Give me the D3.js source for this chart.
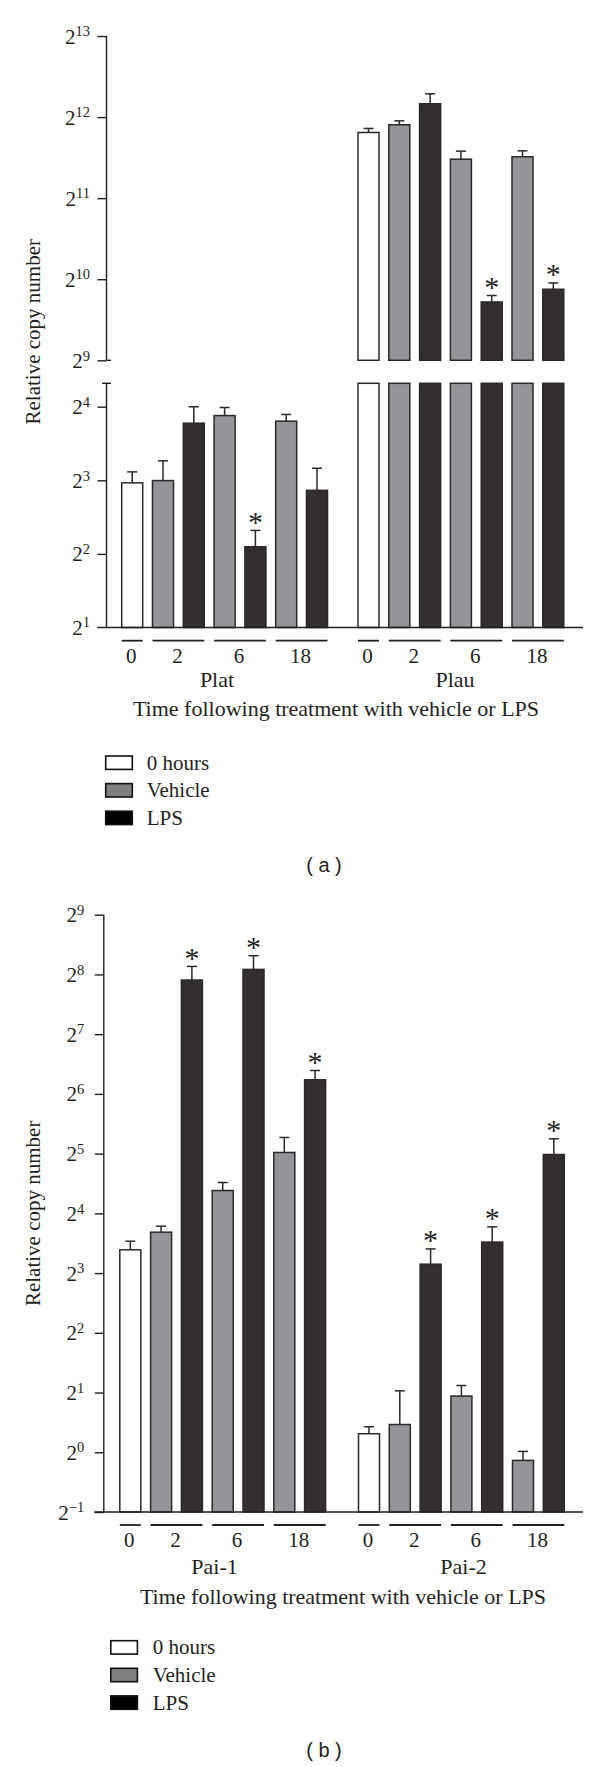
<!DOCTYPE html>
<html><head><meta charset="utf-8">
<script src="https://cdn.jsdelivr.net/npm/d3@7"></script>
<style>
body{margin:0;background:#fff}
svg{display:block}
text{font-family:"Liberation Serif","Times New Roman",serif;fill:#231f20}
</style>
</head><body>
<svg id="c" width="600" height="1767"></svg>
<script>
// ---------------- DATA ----------------
const timeLabels = ["0", "2", "6", "18"];
const legendLabels = ["0 hours", "Vehicle", "LPS"];
const barCondition = ["0h", "Vehicle", "LPS", "Vehicle", "LPS", "Vehicle", "LPS"];
const barTime = ["0", "2", "2", "6", "6", "18", "18"];

// Panel (a)
const platMean = [7.81, 7.98, 13.70, 14.72, 4.28, 13.96, 7.28];
const platErr  = [0.85, 1.63, 2.29, 1.16, 0.71, 0.91, 1.68];
const platSig  = [false, false, false, false, true, false, false];
const plauMean = [3590, 3835, 4590, 2858, 843, 2917, 940];
const plauErr  = [127, 132, 406, 203, 48, 153, 52];
const plauSig  = [false, false, false, false, true, false, true];

// Panel (b)
const pai1Mean = [10.48, 12.86, 239.9, 20.85, 271.4, 32.43, 75.37];
const pai1Err  = [1.10, 0.93, 41.0, 2.03, 46.7, 6.16, 8.6];
const pai1Sig  = [false, false, true, false, true, false, true];
const pai2Mean = [1.24, 1.38, 8.87, 1.92, 11.46, 0.91, 31.67];
const pai2Err  = [0.105, 0.66, 1.72, 0.25, 2.22, 0.10, 6.33];
const pai2Sig  = [false, false, true, false, true, false, true];

// Axis ticks (exponents of 2)
const aUpperExp = [9, 10, 11, 12, 13];
const aLowerExp = [1, 2, 3, 4];
const bExp = [-1, 0, 1, 2, 3, 4, 5, 6, 7, 8, 9];

const yTitle = "Relative copy number";
const xTitle = "Time following treatment with vehicle or LPS";

// ---------------- STYLE ----------------
const fills = {"0h": "#ffffff", "Vehicle": "#939598", "LPS": "#332f30"};
const legendFills = ["#ffffff", "#808080", "#000000"];
const ink = "#231f20";
const barStroke = "#2b2829";

const svg = d3.select("#c");

function makeX(x0) {
  const step = 30.8, pad = 0.318;
  return d3.scaleBand().domain(d3.range(7))
    .range([x0 - step * pad / 2, x0 - step * pad / 2 + 7 * step])
    .paddingInner(pad).paddingOuter(pad / 2);
}

function expLabel(sel, e) {
  sel.append("tspan").attr("font-size", 21).text("2");
  sel.append("tspan").attr("font-size", 14.5).attr("dy", -7.3)
    .text(e < 0 ? "\u2212" + Math.abs(e) : String(e));
}

function yAxis(g, scale, exps, labelRight) {
  const ax = d3.axisLeft(scale).tickValues(exps.map(e => Math.pow(2, e)))
    .tickSize(9).tickSizeOuter(0).tickFormat("");
  g.call(ax);
  g.select(".domain").remove();
  g.selectAll(".tick line").attr("stroke", ink).attr("stroke-width", 1.4);
  g.selectAll(".tick").each(function (d) {
    const e = Math.round(Math.log2(d));
    const t = d3.select(this).append("text")
      .attr("x", -labelRight).attr("y", 7).attr("text-anchor", "end");
    expLabel(t, e);
  });
}

function drawBars(g, x, means, errs, sigs, yScale, bottomY, breakInfo) {
  means.forEach((m, i) => {
    const cond = barCondition[i];
    const bx = x(i), bw = x.bandwidth();
    const top = yScale(m);
    const base = breakInfo ? breakInfo.upperBase : bottomY;
    g.append("rect").attr("x", bx).attr("y", top).attr("width", bw)
      .attr("height", base - top).attr("fill", fills[cond])
      .attr("stroke", barStroke).attr("stroke-width", 1.5);
    if (breakInfo) {
      g.append("rect").attr("x", bx).attr("y", breakInfo.lowerTop).attr("width", bw)
        .attr("height", bottomY - breakInfo.lowerTop).attr("fill", fills[cond])
        .attr("stroke", barStroke).attr("stroke-width", 1.5);
    }
    const et = yScale(m + errs[i]);
    const cx = bx + bw / 2;
    g.append("line").attr("x1", cx).attr("x2", cx).attr("y1", top).attr("y2", et)
      .attr("stroke", barStroke).attr("stroke-width", 1.5);
    g.append("line").attr("x1", cx - 5).attr("x2", cx + 5).attr("y1", et).attr("y2", et)
      .attr("stroke", barStroke).attr("stroke-width", 1.5);
    if (sigs[i]) {
      g.append("text").attr("x", cx).attr("y", et + 1.4).attr("text-anchor", "middle")
        .attr("font-size", 30).text("*");
    }
  });
}

function drawGroupAxis(g, x, underY, labelY, groupLabel, groupLabelX, groupLabelY) {
  timeLabels.forEach(t => {
    const idx = d3.range(7).filter(i => barTime[i] === t);
    const x1 = x(idx[0]), x2 = x(idx[idx.length - 1]) + x.bandwidth();
    g.append("line").attr("x1", x1).attr("x2", x2).attr("y1", underY).attr("y2", underY)
      .attr("stroke", ink).attr("stroke-width", 1.8);
    g.append("text").attr("x", (x1 + x2) / 2 - 1).attr("y", labelY)
      .attr("text-anchor", "middle").attr("font-size", 21).text(t);
  });
  g.append("text").attr("x", groupLabelX).attr("y", groupLabelY)
    .attr("text-anchor", "middle").attr("font-size", 22).text(groupLabel);
}

function legend(g, bx, by, tx) {
  legendLabels.forEach((l, i) => {
    const y = by + i * 27.6;
    g.append("rect").attr("x", bx).attr("y", y).attr("width", 26.6).attr("height", 13.4)
      .attr("fill", legendFills[i]).attr("stroke", "#111").attr("stroke-width", 1.6);
    g.append("text").attr("x", tx).attr("y", y + 13.6).attr("font-size", 21).text(l);
  });
}

// ---------------- PANEL (a) ----------------
{
  const g = svg.append("g");
  const axisX = 106.5;
  const yUp = d3.scaleLog().base(2).domain([Math.pow(2, 9), Math.pow(2, 13)]).range([360.3, 36]);
  const yLow = d3.scaleLog().base(2).domain([2, 16]).range([627.5, 406.7]);
  const lowerTop = 383.3;

  yAxis(g.append("g").attr("transform", `translate(${axisX},0)`), yUp, aUpperExp, 16.5);
  yAxis(g.append("g").attr("transform", `translate(${axisX},0)`), yLow, aLowerExp.slice(1), 16.5);
  expLabel(g.append("text").attr("x", axisX - 16.5).attr("y", yLow(2) + 7).attr("text-anchor", "end"), aLowerExp[0]);

  g.append("line").attr("x1", axisX).attr("x2", axisX).attr("y1", yUp.range()[1]).attr("y2", yUp.range()[0])
    .attr("stroke", ink).attr("stroke-width", 1.4);
  g.append("line").attr("x1", axisX).attr("x2", axisX).attr("y1", lowerTop).attr("y2", yLow(2))
    .attr("stroke", ink).attr("stroke-width", 1.4);
  g.append("line").attr("x1", axisX).attr("x2", axisX + 4.5).attr("y1", yUp(512)).attr("y2", yUp(512))
    .attr("stroke", ink).attr("stroke-width", 1.4);
  g.append("line").attr("x1", axisX - 4.5).attr("x2", axisX + 4.5).attr("y1", lowerTop).attr("y2", lowerTop)
    .attr("stroke", ink).attr("stroke-width", 1.4);

  const xPlat = makeX(121.7), xPlau = makeX(358);
  drawBars(g, xPlat, platMean, platErr, platSig, yLow, yLow(2), null);
  drawBars(g, xPlau, plauMean, plauErr, plauSig, yUp, yLow(2), {upperBase: yUp(512), lowerTop: lowerTop});

  g.append("line").attr("x1", 97.3).attr("x2", 583).attr("y1", yLow(2)).attr("y2", yLow(2))
    .attr("stroke", ink).attr("stroke-width", 1.5);

  drawGroupAxis(g, xPlat, 640.7, 663.3, "Plat", 217, 687.3);
  drawGroupAxis(g, xPlau, 640.7, 663.3, "Plau", 455, 687.3);
  g.append("text").attr("x", 336).attr("y", 716).attr("text-anchor", "middle")
    .attr("font-size", 22).text(xTitle);
  g.append("text").attr("transform", `translate(40.4,${(36 + 627.5) / 2}) rotate(-90)`)
    .attr("text-anchor", "middle").attr("font-size", 21).text(yTitle);
  legend(g, 105.7, 756, 146.7);
  g.append("text").attr("x", 324).attr("y", 871.5).attr("text-anchor", "middle")
    .style("font-family", "'Liberation Sans', Arial, sans-serif").attr("font-size", 20)
    .text("( a )");
}

// ---------------- PANEL (b) ----------------
{
  const g = svg.append("g");
  const axisX = 103.8;
  const y = d3.scaleLog().base(2).domain([0.5, 512]).range([1512, 914.7]);

  yAxis(g.append("g").attr("transform", `translate(${axisX},0)`), y, bExp, 19.5);
  g.append("line").attr("x1", axisX).attr("x2", axisX).attr("y1", y(512)).attr("y2", y(0.5))
    .attr("stroke", ink).attr("stroke-width", 1.4);

  const x1 = makeX(119.8), x2 = makeX(358.5);
  drawBars(g, x1, pai1Mean, pai1Err, pai1Sig, y, y(0.5), null);
  drawBars(g, x2, pai2Mean, pai2Err, pai2Sig, y, y(0.5), null);

  g.append("line").attr("x1", 94.2).attr("x2", 583).attr("y1", y(0.5)).attr("y2", y(0.5))
    .attr("stroke", ink).attr("stroke-width", 1.5);

  drawGroupAxis(g, x1, 1525, 1546.7, "Pai-1", 214.6, 1574);
  drawGroupAxis(g, x2, 1525, 1546.7, "Pai-2", 463.5, 1574);
  g.append("text").attr("x", 343).attr("y", 1603.5).attr("text-anchor", "middle")
    .attr("font-size", 22).text(xTitle);
  g.append("text").attr("transform", `translate(40.4,${(914.7 + 1512) / 2}) rotate(-90)`)
    .attr("text-anchor", "middle").attr("font-size", 21).text(yTitle);
  legend(g, 110.8, 1640.7, 152.7);
  g.append("text").attr("x", 324).attr("y", 1756.5).attr("text-anchor", "middle")
    .style("font-family", "'Liberation Sans', Arial, sans-serif").attr("font-size", 20)
    .text("( b )");
}
</script>
</body></html>
